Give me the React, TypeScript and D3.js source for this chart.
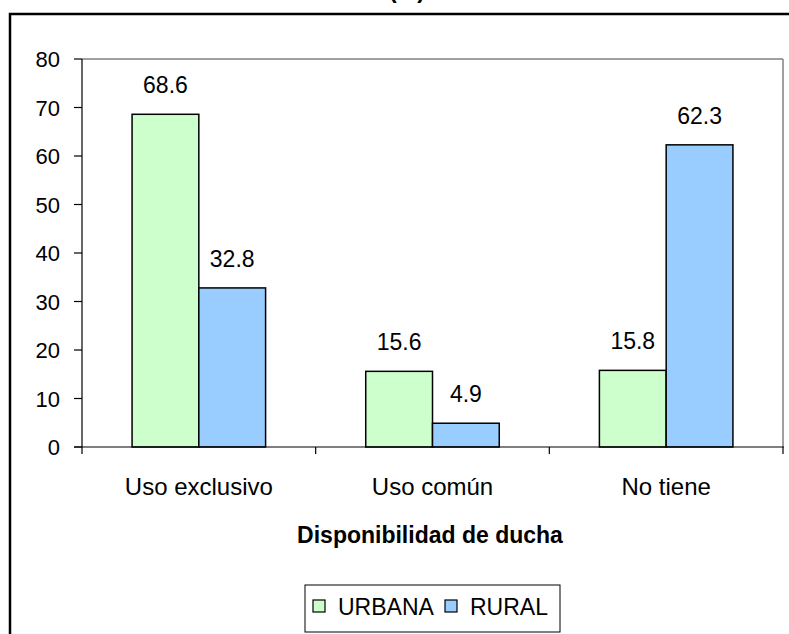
import React from "react";
import * as d3 from "d3";

const categories = ["Uso exclusivo", "Uso común", "No tiene"];
const seriesNames = ["URBANA", "RURAL"];
const urbana = [68.6, 15.6, 15.8];
const rural = [32.8, 4.9, 62.3];
const yTicks = [0, 10, 20, 30, 40, 50, 60, 70, 80];
const colors = ["#CCFFCC", "#99CCFF"];

const W = 789;
const H = 634;
const plot = { left: 82, right: 783, top: 59, bottom: 447 };
const FONT = "Liberation Sans, Arial, sans-serif";
const FS = 23;

export default function App() {
  const x = d3
    .scaleBand<string>()
    .domain(categories)
    .range([plot.left, plot.right])
    .paddingInner(0)
    .paddingOuter(0);
  const cw = x.bandwidth();
  const barW = cw / 3.5;
  const inner = d3
    .scaleBand<string>()
    .domain(seriesNames)
    .range([(cw - 2 * barW) / 2, (cw + 2 * barW) / 2]);
  const y = d3.scaleLinear().domain([0, 80]).range([plot.bottom, plot.top]);
  const series = [urbana, rural];

  const boundaries = [0, 1, 2, 3].map((i) => plot.left + i * cw);

  return (
    <svg
      width={W}
      height={H}
      style={{ position: "absolute", left: 0, top: 0, background: "#fff" }}
      fontFamily={FONT}
    >
      <rect x={0} y={0} width={W} height={H} fill="#fff" />
      <text x={407} y={-2} textAnchor="middle" fontSize={FS} fontWeight="bold">
        (%)
      </text>
      <rect x={10} y={14} width={820} height={700} fill="none" stroke="#000" strokeWidth={2.5} />

      {/* plot border */}
      <line x1={plot.left} x2={plot.right} y1={plot.top} y2={plot.top} stroke="#808080" strokeWidth={1.5} />
      <line x1={plot.right} x2={plot.right} y1={plot.top} y2={plot.bottom} stroke="#808080" strokeWidth={1.5} />

      {/* bars */}
      {categories.map((c, ci) =>
        series.map((s, si) => {
          const bx = (x(c) as number) + (inner(seriesNames[si]) as number);
          const by = y(s[ci]);
          return (
            <g key={c + si}>
              <rect
                x={bx}
                y={by}
                width={inner.bandwidth()}
                height={plot.bottom - by}
                fill={colors[si]}
                stroke="#000"
                strokeWidth={1.5}
              />
              <text
                x={bx + inner.bandwidth() / 2}
                y={by - 21}
                textAnchor="middle"
                fontSize={FS}
              >
                {s[ci].toFixed(1)}
              </text>
            </g>
          );
        })
      )}

      {/* y axis */}
      <line x1={plot.left} x2={plot.left} y1={plot.top} y2={plot.bottom} stroke="#000" strokeWidth={1.2} />
      {yTicks.map((t) => (
        <g key={t}>
          <line x1={plot.left - 8} x2={plot.left} y1={y(t)} y2={y(t)} stroke="#000" strokeWidth={1.2} />
          <text x={60} y={y(t) + 8} textAnchor="end" fontSize={22}>
            {t}
          </text>
        </g>
      ))}

      {/* x axis */}
      <line x1={plot.left - 8} x2={plot.right + 1} y1={plot.bottom} y2={plot.bottom} stroke="#000" strokeWidth={1.2} />
      {boundaries.map((b, i) => (
        <line key={i} x1={b} x2={b} y1={plot.bottom} y2={plot.bottom + 7} stroke="#000" strokeWidth={1.2} />
      ))}
      {categories.map((c) => (
        <text
          key={c}
          x={(x(c) as number) + cw / 2}
          y={495}
          textAnchor="middle"
          fontSize={24}
        >
          {c}
        </text>
      ))}
      <text x={430} y={543} textAnchor="middle" fontSize={FS} fontWeight="bold">
        Disponibilidad de ducha
      </text>

      {/* legend */}
      <rect x={305} y={585} width={255} height={47} fill="#fff" stroke="#000" strokeWidth={1} />
      {seriesNames.map((n, i) => {
        const lx = i === 0 ? 313 : 445;
        return (
          <g key={n}>
            <rect x={lx} y={600} width={12} height={12} fill={colors[i]} stroke="#000" strokeWidth={1.2} />
            <text x={lx + 25} y={615} fontSize={FS}>
              {n}
            </text>
          </g>
        );
      })}
    </svg>
  );
}
